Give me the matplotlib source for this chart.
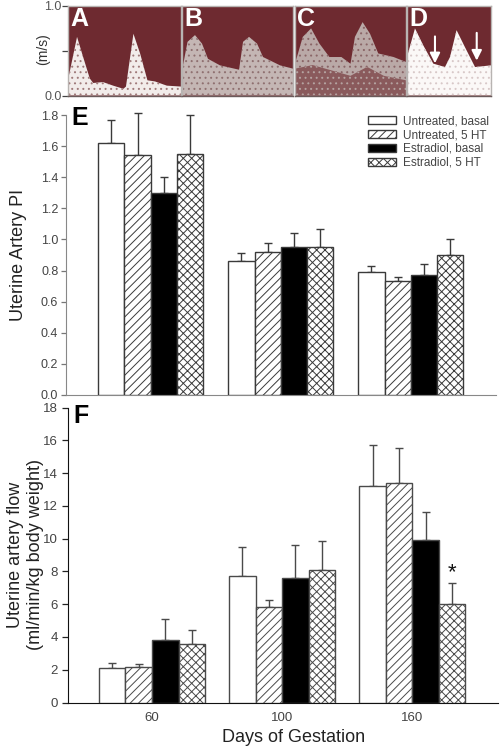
import matplotlib
matplotlib.use("Agg")
import matplotlib.pyplot as plt

plt.rcParams['font.family'] = ['Liberation Sans', 'DejaVu Sans']
plt.rcParams['hatch.linewidth'] = 0.7

W, H = 500, 750

# -----------------------------
# DATA
# -----------------------------
groups = ['60', '100', '160']
series = ['Untreated, basal', 'Untreated, 5 HT', 'Estradiol, basal', 'Estradiol, 5 HT']

pi_means = [[1.62, 0.86, 0.79], [1.54, 0.92, 0.73], [1.30, 0.95, 0.77], [1.55, 0.95, 0.90]]
pi_tops = [[1.77, 0.91, 0.83], [1.81, 0.98, 0.76], [1.40, 1.04, 0.84], [1.80, 1.07, 1.00]]

flow_means = [[2.1, 7.7, 13.2], [2.15, 5.8, 13.4], [3.8, 7.6, 9.9], [3.55, 8.1, 6.0]]
flow_tops = [[2.4, 9.5, 15.7], [2.35, 6.25, 15.5], [5.1, 9.6, 11.6], [4.4, 9.85, 7.3]]

# doppler envelopes, position across the panel and velocity in m/s
a_x = [0, .006, .08, .134, .193, .223, .31, .40, .49, .513, .579, .638, .703, .77, .875, 1]
a_v = [.05, .21, .655, .43, .19, .14, .15, .11, .075, .10, .69, .47, .17, .157, .11, .10]
b_x = [0, .05, .117, .18, .234, .342, .514, .55, .604, .676, .73, .883, 1]
b_v = [.28, .60, .675, .58, .41, .337, .288, .60, .655, .58, .43, .337, .30]
c_x = [0, .07, .145, .22, .31, .418, .5, .54, .609, .676, .75, .888, 1]
c_v = [.355, .655, .75, .58, .43, .43, .355, .655, .82, .69, .47, .43, .375]
c_low_x = [0, .16, .5, .65, .8, 1]
c_low_v = [.30, .34, .22, .32, .22, .17]
d_x = [0, .095, .194, .313, .452, .512, .59, .69, .81, 1]
d_v = [.43, .75, .56, .356, .318, .43, .73, .54, .318, .337]

bar_styles = [
    {'facecolor': 'white', 'hatch': None},
    {'facecolor': 'white', 'hatch': '////'},
    {'facecolor': 'black', 'hatch': None},
    {'facecolor': 'white', 'hatch': 'xxxx'},
]


def px_axes(left, right, top, bottom):
    return fig.add_axes([left / W, 1 - bottom / H, (right - left) / W, (bottom - top) / H])


def draw_bars(ax, means, tops, width, edge):
    for i in range(4):
        xs = [g + (i - 1.5) * width for g in range(3)]
        ax.bar(xs, means[i], width=width, edgecolor=edge, linewidth=1.0, zorder=3,
               label=series[i], **bar_styles[i])
        errs = [t - m for t, m in zip(tops[i], means[i])]
        ax.errorbar(xs, means[i], yerr=[[0] * 3, errs], fmt='none', ecolor=edge,
                    elinewidth=1.0, capsize=3.2, capthick=1.0, zorder=2, clip_on=False)


fig = plt.figure(figsize=(W / 100, H / 100), dpi=100)

# -----------------------------
# DOPPLER PANELS
# -----------------------------
maroon = '#6e2a30'
panels = [
    ('A', 68, 181, a_x, a_v, '#f2eceA', '#a07a7a'),
    ('B', 182, 293, b_x, b_v, '#c4b6b4', '#8f7070'),
    ('C', 295, 406, c_x, c_v, '#baa9a7', '#8a6567'),
    ('D', 407, 491, d_x, d_v, '#fbf8f7', '#d8c8c8'),
]
for name, left, right, xs, vs, col, speck in panels:
    ax = px_axes(left, right, 6, 95.5)
    ax.set_facecolor(maroon)
    ax.fill_between(xs, 0, vs, facecolor=col, edgecolor=speck, hatch='...', linewidth=0)
    if name == 'C':
        ax.fill_between(c_low_x, 0, c_low_v, facecolor='#8a5a5c', edgecolor='#b5a3a1',
                        hatch='...', linewidth=0)
    ax.set_xlim(0, 1)
    ax.set_ylim(0, 1)
    ax.set_xticks([])
    for s in ax.spines.values():
        s.set_color('#b8b4b2')
        s.set_linewidth(1.0)
    ax.spines['bottom'].set_color('#6a5a5a')
    ax.text(0.02 if name != 'D' else 0.03, 0.85, name, color='white', fontsize=18, fontweight='bold',
            va='center', ha='left', transform=ax.transAxes)
    if name == 'A':
        ax.set_yticks([0, 0.5, 1.0])
        ax.set_yticklabels(['0.0', '', '1.0'], fontsize=9, color='#555555')
        ax.tick_params(axis='y', length=4, width=0.9, color='#444444', pad=0.5)
        ax.set_ylabel('(m/s)', fontsize=10, color='#333333')
        ax.yaxis.set_label_coords((50 - 68) / 113, 0.52)
    else:
        ax.set_yticks([])
    if name == 'D':
        for x0, y0, y1 in [(.333, .66, .36), (.83, .70, .39)]:
            ax.annotate('', xy=(x0, y1), xytext=(x0, y0),
                        arrowprops=dict(arrowstyle='-|>,head_width=0.3,head_length=0.6',
                                        color='white', lw=1.5, shrinkA=0, shrinkB=0))

# -----------------------------
# PANEL E - PI
# -----------------------------
ax_e = px_axes(66, 496, 115, 395)
draw_bars(ax_e, pi_means, pi_tops, 26.2 / 130, '#3a3a3a')
ax_e.set_xlim((66 - 150.7) / 130, (496 - 150.7) / 130)
ax_e.set_ylim(0, 1.8)
ax_e.set_yticks([i / 5 for i in range(10)])
ax_e.set_yticklabels([f'{i / 5:.1f}' for i in range(10)], fontsize=9, color='#444444')
ax_e.set_xticks([])
ax_e.tick_params(axis='y', length=3.5, width=0.9, color='#777777', pad=2)
ax_e.spines['top'].set_visible(False)
ax_e.spines['right'].set_visible(False)
ax_e.spines['left'].set_color('#888888')
ax_e.spines['bottom'].set_color('#888888')
ax_e.patch.set_alpha(0)
ax_e.set_ylabel('Uterine Artery PI', fontsize=13, color='#222222', labelpad=10)
fig.text(71 / W, 1 - 118 / H, 'E', fontsize=18, fontweight='bold', va='center', ha='left')
ax_e.legend(loc='upper left', bbox_to_anchor=((366 - 66) / 430, 1.007), frameon=False, fontsize=8.5,
            handlelength=2.3, handleheight=0.68, labelspacing=0.15, handletextpad=0.6,
            labelcolor='#444444', borderaxespad=0, borderpad=0.2)

# -----------------------------
# PANEL F - FLOW
# -----------------------------
ax_f = px_axes(67.5, 498, 407.5, 702.5)
draw_bars(ax_f, flow_means, flow_tops, 26.5 / 130, '#4a4a4a')
ax_f.set_xlim((67.5 - 152) / 130.2, (498 - 152) / 130.2)
ax_f.set_ylim(0, 18)
ax_f.set_yticks(range(0, 19, 2))
ax_f.set_yticklabels([str(v) for v in range(0, 19, 2)], fontsize=9.5, color='#444444')
ax_f.set_xticks([0, 1, 2])
ax_f.set_xticklabels(groups, fontsize=9.5, color='#444444')
ax_f.tick_params(axis='y', length=4, width=0.9, color='#222222', pad=3)
ax_f.tick_params(axis='x', length=0, pad=7)
ax_f.spines['top'].set_visible(False)
ax_f.spines['right'].set_visible(False)
ax_f.spines['left'].set_color('#111111')
ax_f.spines['bottom'].set_color('#111111')
ax_f.patch.set_alpha(0)
ax_f.set_xlabel('Days of Gestation', fontsize=13, color='#222222', labelpad=3.5, x=0.525)
ax_f.set_ylabel('Uterine artery flow\n(ml/min/kg body weight)', fontsize=13, color='#222222',
                labelpad=-1, linespacing=1.25)
ax_f.text(2 + 1.5 * 26.5 / 130, 7.95, '*', fontsize=16, ha='center', va='center', color='#111111')
fig.text(73 / W, 1 - 415.5 / H, 'F', fontsize=18, fontweight='bold', va='center', ha='left')

fig.savefig('out.png', dpi=100)
